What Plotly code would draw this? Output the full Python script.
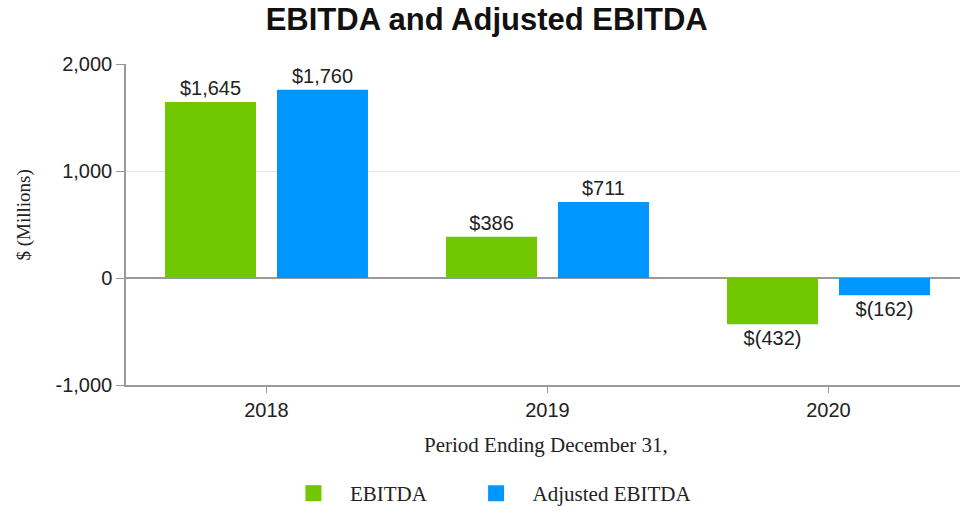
import plotly.graph_objects as go

years = ["2018", "2019", "2020"]
ebitda = [1645, 386, -432]
adj_ebitda = [1760, 711, -162]
series_names = ["EBITDA", "Adjusted EBITDA"]
colors = ["#72C800", "#0096FF"]


def money(v):
    return f"${v:,}" if v >= 0 else f"$({abs(v):,})"


fig = go.Figure()
for name, vals, col, leg in zip(series_names, [ebitda, adj_ebitda], colors, ["legend", "legend2"]):
    fig.add_trace(go.Bar(
        x=years, y=vals, name=name, marker_color=col, marker_line_width=0,
        text=[money(v) for v in vals], textposition="outside", cliponaxis=False,
        textfont=dict(family="Liberation Sans, Arial", size=20, color="#222"),
        showlegend=False,
    ))
    # square legend markers, one legend box each so spacing can be matched
    fig.add_trace(go.Scatter(
        x=[None], y=[None], mode="markers", name=name, legend=leg,
        marker=dict(symbol="square", size=21, color=col),
    ))

serif = "Liberation Serif, Times New Roman"
leg_style = dict(orientation="h", xanchor="left", y=-0.34, yanchor="middle",
                 font=dict(family=serif, size=21, color="#222"), itemwidth=63)
fig.update_layout(
    width=960, height=514,
    paper_bgcolor="white", plot_bgcolor="white",
    margin=dict(l=126, r=0, t=64, b=128),
    barmode="group", bargap=0.203, bargroupgap=0.1875,
    title=dict(text="<b>EBITDA and Adjusted EBITDA</b>", x=0.507, xanchor="center",
               y=0.963, yanchor="middle",
               font=dict(family="Liberation Sans, Arial", size=31, color="#111")),
    legend=dict(x=0.181, **leg_style),
    legend2=dict(x=0.4, **leg_style),
    font=dict(family="Liberation Sans, Arial", color="#222"),
)
fig.update_xaxes(
    range=[-0.5, 2.468], showline=True, linecolor="#999", linewidth=1.5,
    ticks="outside", ticklen=6, tickcolor="#999", automargin=False,
    tickfont=dict(size=20, color="#222"),
)
fig.update_yaxes(
    range=[-1000, 2000], tickvals=[-1000, 0, 1000, 2000],
    ticktext=["-1,000", "0", "1,000", "2,000"],
    showline=True, linecolor="#999", linewidth=1.5,
    ticks="outside", ticklen=8, tickcolor="#999", automargin=False,
    showgrid=True, gridcolor="#e8e8e8",
    zeroline=True, zerolinecolor="#999", zerolinewidth=1.5,
    tickfont=dict(size=20, color="#222"),
)
fig.add_annotation(
    text="$ (Millions)", xref="paper", yref="paper", x=-0.1223, y=0.528,
    textangle=-90, showarrow=False, xanchor="center", yanchor="middle",
    font=dict(family=serif, size=19, color="#222"),
)
fig.add_annotation(
    text="Period Ending December 31,", xref="paper", yref="paper", x=0.5036, y=-0.186,
    showarrow=False, xanchor="center", yanchor="middle",
    font=dict(family=serif, size=21, color="#222"),
)

fig.write_html("out.html", config={"displayModeBar": False},
               post_script="document.body.style.margin='0px';")
